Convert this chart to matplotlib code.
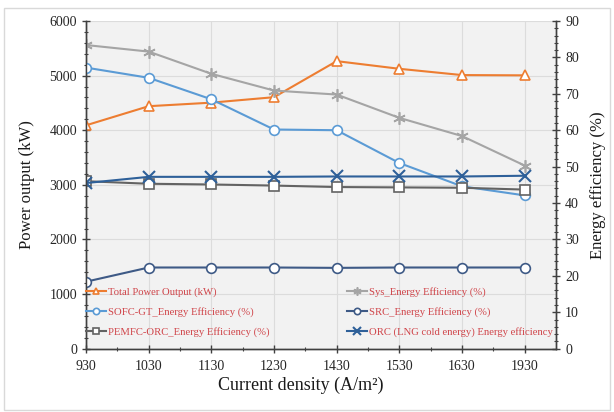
import matplotlib
matplotlib.use("Agg")
import matplotlib.pyplot as plt
from matplotlib.patches import Rectangle
from matplotlib.ticker import MultipleLocator, FixedLocator

plt.rcParams['font.family'] = ['Liberation Serif', 'DejaVu Serif']

categories = ['930', '1030', '1130', '1230', '1430', '1530', '1630', '1930']
total_power = [4090, 4440, 4505, 4605, 5265, 5125, 5010, 5005]
sys_eff = [83.4, 81.6, 75.5, 70.9, 69.8, 63.4, 58.4, 50.3]
sofc_gt_eff = [77.2, 74.4, 68.5, 60.2, 60.0, 51.0, 44.6, 42.1]
src_eff = [18.4, 22.3, 22.3, 22.3, 22.2, 22.3, 22.3, 22.3]
pemfc_orc_eff = [46.0, 45.3, 45.1, 44.8, 44.4, 44.3, 44.2, 43.7]
orc_eff = [45.5, 47.2, 47.2, 47.2, 47.3, 47.3, 47.3, 47.5]

labels = ['Total Power Output (kW)', 'Sys_Energy Efficiency (%)',
          'SOFC-GT_Energy Efficiency (%)', 'SRC_Energy Efficiency (%)',
          'PEMFC-ORC_Energy Efficiency (%)', 'ORC (LNG cold energy) Energy efficiency (%)']

W, H = 614, 412
fig = plt.figure(figsize=(W/100, H/100), dpi=100)
fig.patch.set_facecolor('white')
fig.add_artist(Rectangle((4/W, 2/H), 606/W, (410-8)/H, transform=fig.transFigure,
                         fill=False, edgecolor='#d9d9d9', linewidth=1.0))

ax = fig.add_axes([86/W, 1-348.7/H, (556-86)/W, (348.7-21)/H])
ax.set_facecolor('#f2f2f2')
ax2 = ax.twinx()

x = list(range(len(categories)))
lw = 1.5
ms = 7
h_total, = ax.plot(x, total_power, color='#ED7D31', lw=lw, marker='^', ms=ms,
                   mfc='white', mec='#ED7D31', mew=1.2, label=labels[0], zorder=5)
h_sys, = ax2.plot(x, sys_eff, color='#A5A5A5', lw=lw, marker=(6, 2, 0), ms=9,
                  mec='#A5A5A5', mew=1.2, label=labels[1])
h_sofc, = ax2.plot(x, sofc_gt_eff, color='#5B9BD5', lw=lw, marker='o', ms=ms,
                   mfc='white', mec='#5B9BD5', mew=1.2, label=labels[2])
h_src, = ax2.plot(x, src_eff, color='#3E5A86', lw=lw, marker='o', ms=ms,
                  mfc='white', mec='#3E5A86', mew=1.2, label=labels[3])
h_pem, = ax2.plot(x, pemfc_orc_eff, color='#636363', lw=lw, marker='s', ms=ms,
                  mfc='white', mec='#636363', mew=1.2, label=labels[4])
h_orc, = ax2.plot(x, orc_eff, color='#2E6099', lw=lw, marker='x', ms=8,
                  mec='#2E6099', mew=1.5, label=labels[5])

ax.set_xlim(0, 7.5)
ax.set_ylim(0, 6000)
ax2.set_ylim(0, 90)
ax.set_xticks(x)
ax.set_xticklabels(categories)
ax.xaxis.set_minor_locator(FixedLocator([i + 0.5 for i in range(7)]))
ax.yaxis.set_major_locator(MultipleLocator(1000))
ax.yaxis.set_minor_locator(MultipleLocator(200))
ax2.yaxis.set_major_locator(MultipleLocator(10))
ax2.yaxis.set_minor_locator(MultipleLocator(2))

ax.grid(True, which='major', color='#dcdcdc', lw=0.8)
ax.set_axisbelow(True)

for a in (ax, ax2):
    a.tick_params(which='major', direction='inout', length=6, width=1, colors='#404040',
                  labelsize=10, labelcolor='#262626')
    a.tick_params(which='minor', direction='inout', length=3.5, width=0.8, colors='#404040')
    a.spines['top'].set_visible(False)
    for s in ('left', 'right', 'bottom'):
        a.spines[s].set_color('#404040')
        a.spines[s].set_linewidth(1.0)
ax.tick_params(axis='x', which='major', pad=5)

ax.set_ylabel('Power output (kW)', fontsize=12, color='#1a1a1a', labelpad=10)
ax2.set_ylabel('Energy efficiency (%)', fontsize=12, color='#1a1a1a', labelpad=8)
ax.set_xlabel('Current density (A/m²)', fontsize=13, color='#1a1a1a', labelpad=1)
ax.xaxis.set_label_coords((301-86)/470, -0.085)

handles = [h_total, h_sofc, h_pem, h_sys, h_src, h_orc]
leg = ax2.legend(handles, [h.get_label() for h in handles], ncol=2, frameon=False,
                 loc='upper left', bbox_to_anchor=(0.0, (348.7-287)/(348.7-21)),
                 borderaxespad=0, borderpad=0, fontsize=7.7, handlelength=1.9,
                 handletextpad=0.2, labelspacing=0.95, columnspacing=7.2,
                 markerscale=0.65)
for t in leg.get_texts():
    t.set_color('#D0454A')
    t.set_clip_box(ax.bbox)
    t.set_clip_on(True)

fig.savefig('out.png', dpi=100)
